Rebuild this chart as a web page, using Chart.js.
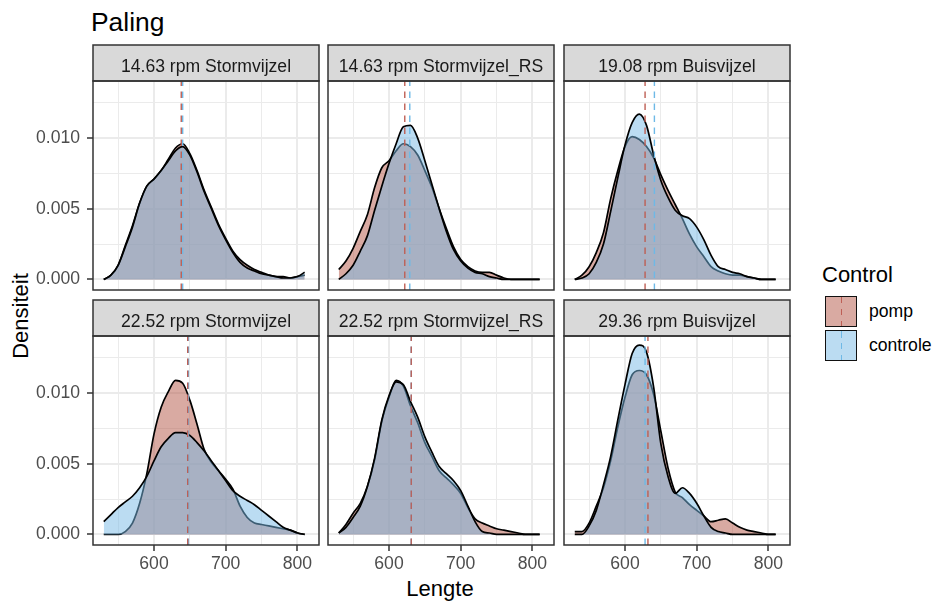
<!DOCTYPE html>
<html>
<head>
<meta charset="utf-8">
<title>Paling</title>
<script src="https://cdn.jsdelivr.net/npm/chart.js@4.4.0/dist/chart.umd.min.js"></script>
<style>
  body { margin: 0; background: #fff; }
  #wrap { position: relative; width: 937px; height: 601px; overflow: hidden;
          font-family: "Liberation Sans", Arial, sans-serif; background: #fff; }
  #wrap canvas { position: absolute; }
  .txt { position: absolute; white-space: nowrap; color: #000; }
  .key { position: absolute; width: 32px; height: 31px; box-sizing: border-box; border: 1.5px solid #111; }
  .key .dash { position: absolute; left: 14.5px; top: 0; bottom: 0; width: 1.4px; }
</style>
</head>
<body>
<div id="wrap">
  <div class="txt" style="left:91px; top:8.6px; font-size:26.4px; line-height:26.4px;">Paling</div>
  <div class="txt" style="left:240px; width:400px; text-align:center; top:578.4px; font-size:22px; line-height:22px;">Lengte</div>
  <div class="txt" style="left:-79.3px; width:200px; text-align:center; top:305px; font-size:22px; line-height:22px; transform:rotate(-90deg);">Densiteit</div>

  <div class="txt" style="left:822px; top:264.4px; font-size:22px; line-height:22px;">Control</div>
  <div class="key" style="left:825px; top:296px; background:rgba(179,85,69,0.5);">
    <div class="dash" style="background:repeating-linear-gradient(to bottom, rgb(190,95,85) 0 6.5px, transparent 6.5px 12px);"></div>
  </div>
  <div class="key" style="left:825px; top:329.5px; background:rgba(119,185,229,0.5);">
    <div class="dash" style="background:repeating-linear-gradient(to bottom, rgb(110,185,230) 0 6.5px, transparent 6.5px 12px);"></div>
  </div>
  <div class="txt" style="left:869px; top:303.1px; font-size:17.6px; line-height:17.6px;">pomp</div>
  <div class="txt" style="left:869px; top:337.1px; font-size:17.6px; line-height:17.6px;">controle</div>
</div>

<script>
// ---------- Data ----------
const panelTitles = [
    "14.63 rpm Stormvijzel", "14.63 rpm Stormvijzel_RS", "19.08 rpm Buisvijzel",
    "22.52 rpm Stormvijzel", "22.52 rpm Stormvijzel_RS", "29.36 rpm Buisvijzel"
];

// Lengte (x) at which the densities were read
const lengte = [530, 540, 550, 560, 570, 580, 590, 600, 610, 620, 630, 640, 650, 660, 670,
                680, 690, 700, 710, 720, 730, 740, 750, 760, 770, 780, 790, 800, 810];

// 14.63 rpm Stormvijzel
const pomp1 = [0.0000, 0.0003, 0.0010, 0.0024, 0.0038, 0.0054, 0.0066, 0.0071, 0.0077, 0.0085, 0.0093, 0.0096, 0.0089, 0.0077, 0.0063,
               0.0051, 0.0039, 0.0029, 0.0020, 0.0014, 0.0010, 0.0007, 0.0005, 0.0003, 0.0002, 0.0002, 0.0001, 0.0002, 0.0003];
const controle1 = [0.0000, 0.0003, 0.0010, 0.0023, 0.0037, 0.0054, 0.0066, 0.0071, 0.0077, 0.0084, 0.0091, 0.0094, 0.0088, 0.0076, 0.0062,
                   0.0050, 0.0038, 0.0028, 0.0019, 0.0012, 0.0008, 0.0006, 0.0004, 0.0003, 0.0002, 0.0001, 0.0001, 0.0002, 0.0005];
// 14.63 rpm Stormvijzel_RS
const pomp2 = [0.0007, 0.0013, 0.0022, 0.0034, 0.0046, 0.0065, 0.0079, 0.0084, 0.0091, 0.0096, 0.0094, 0.0088, 0.0077, 0.0065, 0.0050,
               0.0036, 0.0023, 0.0014, 0.0009, 0.0006, 0.0005, 0.0005, 0.0003, 0.0001, 0, 0, 0, 0, 0];
const controle2 = [0.0000, 0.0004, 0.0010, 0.0020, 0.0031, 0.0049, 0.0066, 0.0082, 0.0096, 0.0108, 0.0109, 0.0100, 0.0084, 0.0067, 0.0050,
                   0.0034, 0.0021, 0.0013, 0.0008, 0.0005, 0.0004, 0.0002, 0.0001, 0, 0, 0, 0, 0, 0];
// 19.08 rpm Buisvijzel
const pomp3 = [0.0000, 0.0003, 0.0009, 0.0019, 0.0033, 0.0057, 0.0077, 0.0094, 0.0101, 0.0099, 0.0094, 0.0086, 0.0074, 0.0063, 0.0053,
               0.0043, 0.0032, 0.0023, 0.0016, 0.0009, 0.0006, 0.0004, 0.0003, 0.0003, 0.0002, 0.0001, 0, 0, 0];
const controle3 = [0.0000, 0.0001, 0.0004, 0.0012, 0.0025, 0.0048, 0.0072, 0.0095, 0.0111, 0.0117, 0.0109, 0.0088, 0.0070, 0.0058, 0.0049,
                   0.0045, 0.0043, 0.0037, 0.0028, 0.0017, 0.0009, 0.0007, 0.0005, 0.0004, 0.0002, 0.0001, 0, 0, 0];
// 22.52 rpm Stormvijzel
const pomp4 = [0, 0, 0.0000, 0.0002, 0.0008, 0.0022, 0.0043, 0.0071, 0.0090, 0.0101, 0.0109, 0.0107, 0.0095, 0.0078, 0.0060,
               0.0051, 0.0045, 0.0039, 0.0032, 0.0020, 0.0012, 0.0008, 0.0007, 0.0006, 0.0005, 0.0004, 0.0003, 0.0001, 0.0000];
const controle4 = [0.0009, 0.0014, 0.0019, 0.0023, 0.0027, 0.0033, 0.0041, 0.0052, 0.0062, 0.0068, 0.0072, 0.0072, 0.0070, 0.0065, 0.0059,
                   0.0052, 0.0045, 0.0038, 0.0031, 0.0027, 0.0024, 0.0021, 0.0017, 0.0013, 0.0009, 0.0005, 0.0003, 0.0001, 0.0000];
// 22.52 rpm Stormvijzel_RS
const pomp5 = [0.0001, 0.0007, 0.0015, 0.0022, 0.0034, 0.0053, 0.0080, 0.0097, 0.0109, 0.0105, 0.0091, 0.0079, 0.0065, 0.0055, 0.0045,
               0.0040, 0.0035, 0.0029, 0.0019, 0.0011, 0.0008, 0.0006, 0.0004, 0.0003, 0.0002, 0.0001, 0, 0, 0];
const controle5 = [0.0001, 0.0005, 0.0012, 0.0020, 0.0034, 0.0054, 0.0081, 0.0098, 0.0108, 0.0106, 0.0094, 0.0083, 0.0069, 0.0058, 0.0048,
                   0.0043, 0.0038, 0.0031, 0.0020, 0.0009, 0.0002, 0.0001, 0, 0, 0, 0, 0, 0, 0];
// 29.36 rpm Buisvijzel
const pomp6 = [0.0002, 0.0002, 0.0008, 0.0020, 0.0033, 0.0052, 0.0076, 0.0097, 0.0113, 0.0116, 0.0113, 0.0099, 0.0073, 0.0047, 0.0030,
               0.0026, 0.0021, 0.0017, 0.0013, 0.0009, 0.0010, 0.0011, 0.0008, 0.0005, 0.0003, 0.0002, 0.0001, 0, 0];
const controle6 = [0.0000, 0.0000, 0.0006, 0.0017, 0.0035, 0.0055, 0.0081, 0.0106, 0.0128, 0.0134, 0.0129, 0.0104, 0.0064, 0.0041, 0.0029,
                   0.0033, 0.0029, 0.0022, 0.0013, 0.0005, 0.0002, 0.0001, 0, 0, 0, 0, 0, 0, 0];

const pompSeries = [pomp1, pomp2, pomp3, pomp4, pomp5, pomp6];
const controleSeries = [controle1, controle2, controle3, controle4, controle5, controle6];

// mean Lengte per group (dashed lines)
const pompMean = [638, 622, 628, 647, 631, 632];
const controleMean = [640, 629, 641, 648, 631, 628];

// axis breaks
const xBreaks = [600, 700, 800];
const xLabels = ["600", "700", "800"];
const xMinor = [550, 650, 750];
const yBreaks = [0, 0.005, 0.01];
const yLabels = ["0.000", "0.005", "0.010"];
const yMinor = [0.0025, 0.0075, 0.0125];

// ---------- Layout / style ----------
const X_MIN = 515, X_MAX = 830;
const Y_MIN = -0.00075, Y_MAX = 0.01404;
const stripH = 36, plotW = 226, plotH = 209;
const colLeft = [93, 328, 564];
const rowTop = [45, 300];

const FONT = '"Liberation Sans", Arial, sans-serif';
const POMP_FILL = "rgba(179,85,69,0.5)";
const CONTROLE_FILL = "rgba(119,185,229,0.5)";
const POMP_LINE = "rgb(190,95,85)";
const CONTROLE_LINE = "rgb(110,185,230)";

Chart.defaults.font.family = FONT;

// strip on top + panel border
const panelFrame = {
    id: "panelFrame",
    afterDraw(chart, args, opts) {
        const { ctx, chartArea: a } = chart;
        ctx.save();
        ctx.fillStyle = "#D9D9D9";
        ctx.fillRect(a.left, a.top - stripH, a.right - a.left, stripH);
        ctx.strokeStyle = "#333333";
        ctx.lineWidth = 1.5;
        ctx.strokeRect(a.left, a.top - stripH, a.right - a.left, stripH);
        ctx.strokeRect(a.left, a.top, a.right - a.left, a.bottom - a.top);
        ctx.fillStyle = "#1A1A1A";
        ctx.font = "17.6px " + FONT;
        ctx.textAlign = "center";
        ctx.textBaseline = "alphabetic";
        ctx.fillText(opts.label, (a.left + a.right) / 2, a.top - stripH + 26.5);
        ctx.restore();
    }
};

function points(arr) {
    return lengte.map((x, k) => ({ x: x, y: arr[k] }));
}

function densityDataset(arr, fill, order) {
    return {
        data: points(arr),
        borderColor: "#000",
        borderWidth: 1.7,
        backgroundColor: fill,
        fill: "origin",
        pointRadius: 0,
        cubicInterpolationMode: "monotone",
        order: order
    };
}

function meanDataset(m, color, order) {
    return {
        data: [{ x: m, y: Y_MIN }, { x: m, y: Y_MAX }],
        borderColor: color,
        borderWidth: 1.4,
        borderDash: [6.5, 5.5],
        pointRadius: 0,
        fill: false,
        order: order
    };
}

// no extra room for labels overflowing the plot
function noPadding(s) {
    s.paddingTop = 0;
    s.paddingBottom = 0;
    s.paddingLeft = 0;
    s.paddingRight = 0;
}

const wrap = document.getElementById("wrap");

function makePanel(i) {
    const col = i % 3, row = Math.floor(i / 3);
    const leftAxis = col === 0, bottomAxis = row === 1;
    const plotLeft = colLeft[col];
    const axisW = leftAxis ? plotLeft : 0;
    const padL = leftAxis ? 0 : 2;
    const axisH = bottomAxis ? 32 : 0;
    const w = padL + axisW + plotW + 2;
    const h = 2 + stripH + plotH + axisH + (bottomAxis ? 0 : 2);

    const cv = document.createElement("canvas");
    cv.width = w;
    cv.height = h;
    cv.style.width = w + "px";
    cv.style.height = h + "px";
    cv.style.left = (leftAxis ? 0 : plotLeft - 2) + "px";
    cv.style.top = (rowTop[row] - 2) + "px";
    wrap.appendChild(cv);

    const xTicks = [...xBreaks, ...xMinor].sort((a, b) => a - b);
    const yTicks = [...yBreaks, ...yMinor].sort((a, b) => a - b);

    new Chart(cv, {
        type: "line",
        data: {
            datasets: [
                densityDataset(pompSeries[i], POMP_FILL, 4),
                densityDataset(controleSeries[i], CONTROLE_FILL, 3),
                meanDataset(controleMean[i], CONTROLE_LINE, 2),
                meanDataset(pompMean[i], POMP_LINE, 1)
            ]
        },
        options: {
            responsive: false,
            animation: false,
            devicePixelRatio: 1,
            layout: { padding: { left: padL, right: 2, top: 2 + stripH, bottom: bottomAxis ? 0 : 2 } },
            plugins: {
                legend: { display: false },
                tooltip: { enabled: false },
                panelFrame: { label: panelTitles[i] }
            },
            scales: {
                x: {
                    type: "linear",
                    min: X_MIN,
                    max: X_MAX,
                    border: { display: false },
                    afterBuildTicks: s => { s.ticks = xTicks.map(v => ({ value: v })); },
                    afterFit: s => { s.height = axisH; noPadding(s); },
                    grid: {
                        color: "#EBEBEB",
                        lineWidth: c => xBreaks.includes(c.tick.value) ? 2 : 1,
                        drawTicks: bottomAxis,
                        tickLength: 6,
                        tickWidth: 1.5,
                        tickColor: c => xBreaks.includes(c.tick.value) ? "#333333" : "rgba(0,0,0,0)"
                    },
                    ticks: {
                        display: bottomAxis,
                        autoSkip: false,
                        maxRotation: 0,
                        padding: 3,
                        color: "#4D4D4D",
                        font: { size: 17.6, family: FONT },
                        callback: v => { const k = xBreaks.indexOf(v); return k >= 0 ? xLabels[k] : ""; }
                    }
                },
                y: {
                    type: "linear",
                    min: Y_MIN,
                    max: Y_MAX,
                    border: { display: false },
                    afterBuildTicks: s => { s.ticks = yTicks.map(v => ({ value: v })); },
                    afterFit: s => { s.width = axisW; noPadding(s); },
                    grid: {
                        color: "#EBEBEB",
                        lineWidth: c => yBreaks.includes(c.tick.value) ? 2 : 1,
                        drawTicks: leftAxis,
                        tickLength: 6,
                        tickWidth: 1.5,
                        tickColor: c => yBreaks.includes(c.tick.value) ? "#333333" : "rgba(0,0,0,0)"
                    },
                    ticks: {
                        display: leftAxis,
                        autoSkip: false,
                        padding: 7,
                        color: "#4D4D4D",
                        font: { size: 17.6, family: FONT },
                        callback: v => { const k = yBreaks.indexOf(v); return k >= 0 ? yLabels[k] : ""; }
                    }
                }
            }
        },
        plugins: [panelFrame]
    });
}

for (let i = 0; i < 6; i++) makePanel(i);
</script>
</body>
</html>
